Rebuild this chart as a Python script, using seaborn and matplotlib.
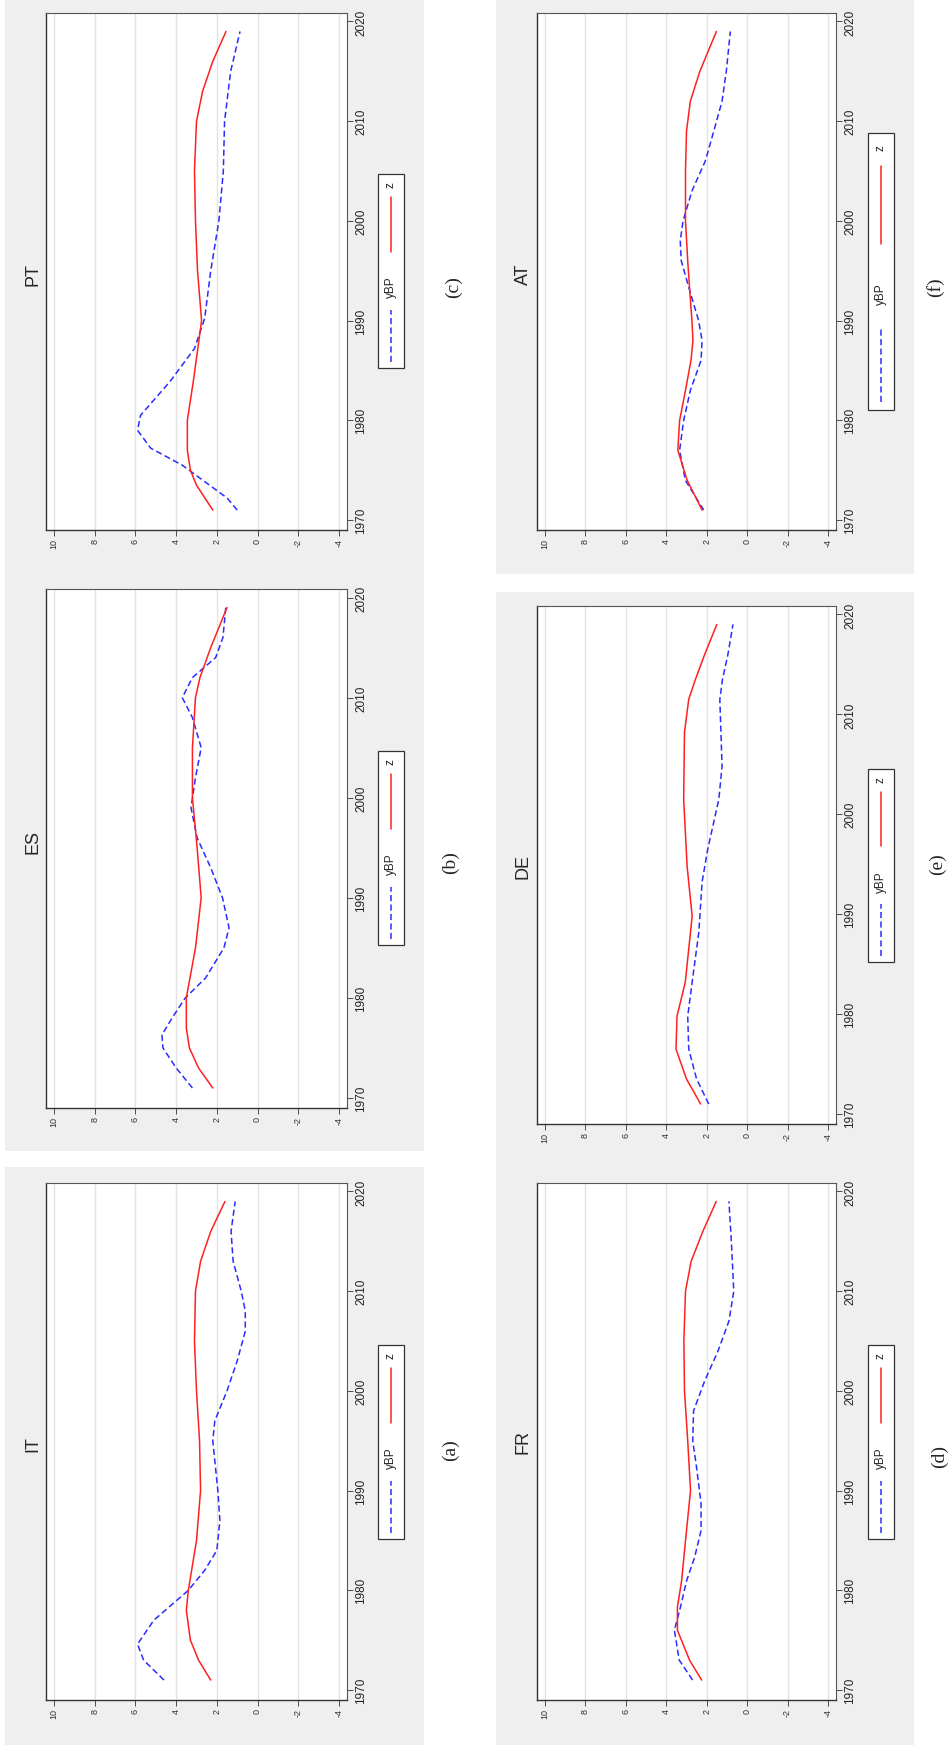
import numpy as np
import pandas as pd
import matplotlib
matplotlib.use("Agg")
import matplotlib.pyplot as plt
import seaborn as sns
from matplotlib.patches import Rectangle
from matplotlib.lines import Line2D

sns.set_theme(style="white")
plt.rcParams['font.family'] = ['Liberation Sans', 'DejaVu Sans']

# ---------------- data ----------------
it_ybp_years = [1971, 1973, 1974.6, 1977, 1980, 1982, 1984, 1987, 1990, 1995, 1997, 2000, 2003, 2006, 2008, 2010, 2013, 2016, 2019]
it_ybp_vals  = [4.6, 5.6, 5.9, 5.1, 3.4, 2.6, 2.0, 1.85, 1.95, 2.2, 2.1, 1.5, 1.0, 0.6, 0.6, 0.8, 1.2, 1.3, 1.1]
it_z_years = [1971, 1973, 1975, 1978, 1980, 1985, 1990, 1995, 2000, 2005, 2010, 2013, 2016, 2019]
it_z_vals  = [2.3, 2.9, 3.3, 3.5, 3.4, 3.0, 2.8, 2.85, 3.0, 3.1, 3.05, 2.8, 2.3, 1.6]

es_ybp_years = [1971, 1973, 1975, 1976.3, 1978, 1980, 1982, 1985, 1987, 1990, 1993, 1996, 1999, 2002, 2005, 2008, 2010, 2012, 2014, 2016, 2019]
es_ybp_vals  = [3.2, 4.0, 4.65, 4.7, 4.2, 3.55, 2.55, 1.65, 1.4, 1.72, 2.3, 2.97, 3.27, 3.05, 2.77, 3.2, 3.7, 3.2, 2.06, 1.7, 1.56]
es_z_years = [1971, 1973, 1975, 1977, 1980, 1985, 1990, 1995, 2000, 2005, 2010, 2012, 2015, 2019]
es_z_vals  = [2.2, 2.9, 3.35, 3.5, 3.5, 3.05, 2.77, 2.97, 3.2, 3.2, 3.05, 2.83, 2.3, 1.5]

pt_ybp_years = [1971, 1972.2, 1975.5, 1977.2, 1979, 1980.5, 1983.9, 1987.2, 1990.2, 1995, 2000, 2005, 2010, 2015, 2019]
pt_ybp_vals  = [1.0, 1.49, 3.7, 5.25, 5.9, 5.75, 4.3, 3.1, 2.6, 2.3, 1.9, 1.68, 1.62, 1.32, 0.86]
pt_z_years = [1971, 1973.5, 1975, 1977, 1980, 1984, 1990, 1995, 2000, 2005, 2010, 2013, 2016, 2019]
pt_z_vals  = [2.2, 3.0, 3.3, 3.45, 3.45, 3.15, 2.75, 2.95, 3.05, 3.1, 3.0, 2.7, 2.2, 1.55]

fr_ybp_years = [1971, 1973, 1976, 1978.3, 1981, 1983.3, 1986, 1988.7, 1992.3, 1995, 1998, 2001, 2004, 2007, 2010, 2015, 2019]
fr_ybp_vals  = [2.7, 3.36, 3.6, 3.3, 2.99, 2.6, 2.28, 2.28, 2.5, 2.69, 2.65, 2.1, 1.44, 0.9, 0.66, 0.78, 0.9]
fr_z_years = [1971, 1973, 1976, 1978.3, 1981, 1986, 1990, 1995, 2000, 2005, 2010, 2013, 2016, 2019]
fr_z_vals  = [2.25, 2.85, 3.45, 3.45, 3.24, 3.0, 2.8, 2.94, 3.1, 3.13, 3.05, 2.77, 2.19, 1.53]

de_ybp_years = [1971, 1973.5, 1976.5, 1979.8, 1983.2, 1988.2, 1993.2, 1996.5, 2001.5, 2004.8, 2011.5, 2013.5, 2016, 2019]
de_ybp_vals  = [1.9, 2.5, 2.89, 2.94, 2.72, 2.39, 2.23, 1.95, 1.4, 1.24, 1.35, 1.22, 0.95, 0.7]
de_z_years = [1971, 1973.5, 1976.5, 1979.8, 1983.2, 1989.8, 1994.8, 2001.5, 2008.2, 2011.5, 2013.5, 2016, 2019]
de_z_vals  = [2.3, 3.0, 3.52, 3.47, 3.06, 2.72, 2.97, 3.14, 3.1, 2.89, 2.56, 2.1, 1.5]

at_ybp_years = [1971, 1974, 1977, 1980, 1983, 1986, 1988, 1990, 1993, 1996, 1998, 2000, 2003, 2006, 2009, 2012, 2015, 2019]
at_ybp_vals  = [2.15, 3.06, 3.34, 3.14, 2.81, 2.28, 2.23, 2.4, 2.84, 3.26, 3.31, 3.17, 2.73, 2.07, 1.65, 1.24, 1.03, 0.83]
at_z_years = [1971, 1974, 1977, 1980, 1983, 1986, 1988, 1990, 1993, 1996, 2000, 2005, 2009, 2012, 2015, 2019]
at_z_vals  = [2.23, 2.97, 3.43, 3.34, 3.05, 2.78, 2.68, 2.73, 2.84, 2.94, 3.05, 3.05, 3.0, 2.81, 2.34, 1.52]

value_ticks = [10, 8, 6, 4, 2, 0, -2, -4]
year_ticks = [1970, 1980, 1990, 2000, 2010, 2020]
series_names = ["yBP", "z"]

# ---------------- layout (pixels) ----------------
W, H = 953, 1749
fig = plt.figure(figsize=(W / 100, H / 100), dpi=100)
fig.patch.set_facecolor("white")

def rect(x0, y0, x1, y1):
    return [x0 / W, 1 - y1 / H, (x1 - x0) / W, (y1 - y0) / H]

grays = [(5, 0, 424, 1152), (5, 1168, 424, 1746), (496, 0, 914, 575), (496, 593, 914, 1746)]
for g in grays:
    r = rect(*g)
    fig.patches.append(Rectangle((r[0], r[1]), r[2], r[3], transform=fig.transFigure,
                                 facecolor="#efefef", edgecolor="none", zorder=-5))

panels = [
    ("PT", (pt_ybp_years, pt_ybp_vals), (pt_z_years, pt_z_vals), (46, 14, 347, 531), (33, 275), (378, 175, 404, 369), "(c)", (453, 287)),
    ("ES", (es_ybp_years, es_ybp_vals), (es_z_years, es_z_vals), (46, 590, 347, 1109), (33, 842), (378, 752, 404, 946), "(b)", (450, 863)),
    ("IT", (it_ybp_years, it_ybp_vals), (it_z_years, it_z_vals), (46, 1184, 347, 1701), (33, 1444), (378, 1346, 404, 1540), "(a)", (450, 1450)),
    ("AT", (at_ybp_years, at_ybp_vals), (at_z_years, at_z_vals), (537, 14, 836, 531), (523, 274), (868, 134, 894, 411), "(f)", (935, 287)),
    ("DE", (de_ybp_years, de_ybp_vals), (de_z_years, de_z_vals), (537, 607, 836, 1125), (523, 867), (868, 770, 894, 963), "(e)", (937, 864)),
    ("FR", (fr_ybp_years, fr_ybp_vals), (fr_z_years, fr_z_vals), (537, 1184, 836, 1701), (523, 1442), (868, 1346, 894, 1540), "(d)", (939, 1457)),
]

palette = {"yBP": "#2b2bff", "z": "#ff2020"}
dashes = {"yBP": (4, 2.2), "z": ""}

for name, ybp, z, box, tpos, lbox, cap, cpos in panels:
    ax = fig.add_axes(rect(*box))
    ax.set_zorder(1)
    df = pd.concat([
        pd.DataFrame({"year": ybp[0], "value": ybp[1], "series": "yBP"}),
        pd.DataFrame({"year": z[0], "value": z[1], "series": "z"}),
    ])
    sns.lineplot(data=df, x="value", y="year", hue="series", style="series",
                 palette=palette, dashes=dashes, orient="y", sort=True,
                 linewidth=1.1, legend=False, ax=ax)
    ax.set_xlim(10.4, -4.4)
    ax.set_ylim(1969.0, 2020.85)
    ax.set_xticks(value_ticks)
    ax.set_xticklabels([str(v) for v in value_ticks], rotation=90, fontsize=6.5, color="#333333")
    ax.set_yticks(year_ticks)
    ax.set_yticklabels([str(v) for v in year_ticks], rotation=90, va="center", fontsize=8.5, color="#222222")
    ax.yaxis.tick_right()
    ax.tick_params(axis="both", length=4, width=0.6, color="#333333", pad=2, direction="out",
                   bottom=True, right=True, left=False, top=False)
    ax.set_xlabel("")
    ax.set_ylabel("")
    ax.set_facecolor("white")
    ax.grid(False)
    for v in value_ticks:
        ax.axvline(v, color="#e3e3e3", linewidth=1.0, zorder=0)
    for k in ["left", "bottom"]:
        ax.spines[k].set_visible(True)
        ax.spines[k].set_color("#333333"); ax.spines[k].set_linewidth(1.0)
    for k in ["right", "top"]:
        ax.spines[k].set_visible(True)
        ax.spines[k].set_color("#555555"); ax.spines[k].set_linewidth(0.8)

    fig.text(tpos[0] / W, 1 - tpos[1] / H, name, rotation=90, ha="center", va="center", fontsize=13)
    fig.text(cpos[0] / W, 1 - cpos[1] / H, cap, rotation=90, ha="center", va="center", fontsize=14,
             family=["Liberation Serif", "DejaVu Serif"])

    # legend (drawn rotated)
    x0, y0, x1, y1 = lbox
    r = rect(x0, y0, x1, y1)
    fig.patches.append(Rectangle((r[0], r[1]), r[2], r[3], transform=fig.transFigure,
                                 facecolor="white", edgecolor="#333333", linewidth=0.9, zorder=5))
    L = y1 - y0
    xc = (x0 + x1) / 2 / W
    def fy(f):
        return 1 - (y1 - f * L) / H
    fig.lines.append(Line2D([xc, xc], [fy(0.03), fy(0.30)], transform=fig.transFigure,
                            color=palette["yBP"], linewidth=1.1, dashes=(4, 2.2), zorder=6))
    fig.text(xc, fy(0.42), "yBP", rotation=90, ha="center", va="center", fontsize=8.5, zorder=6)
    fig.lines.append(Line2D([xc, xc], [fy(0.60), fy(0.88)], transform=fig.transFigure,
                            color=palette["z"], linewidth=1.1, zorder=6))
    fig.text(xc, fy(0.95), "z", rotation=90, ha="center", va="center", fontsize=8.5, zorder=6)

fig.savefig("out.png", dpi=100, facecolor="white")
